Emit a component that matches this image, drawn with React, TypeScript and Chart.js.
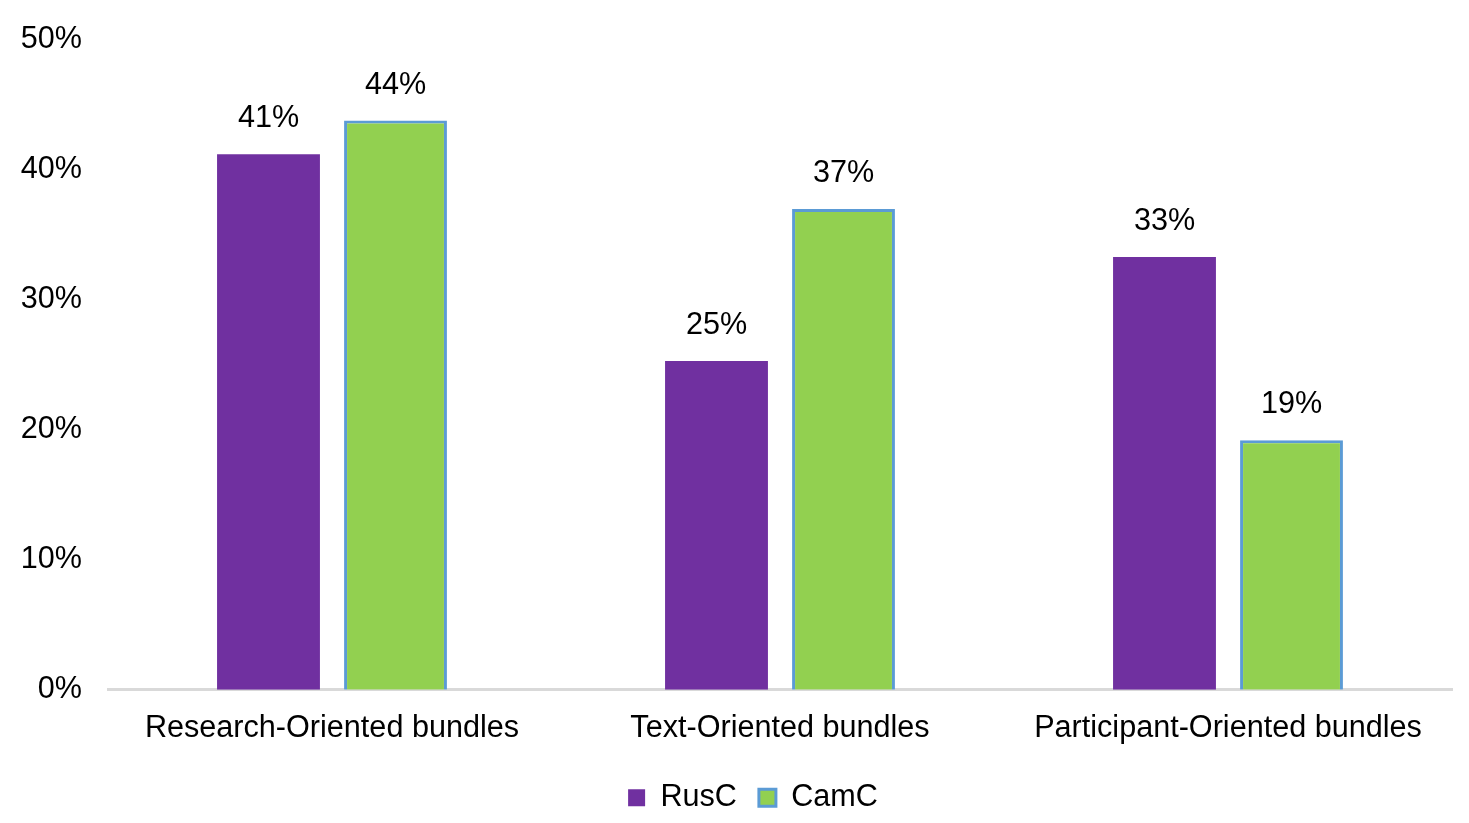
import React, { useEffect, useRef } from "react";
import { Chart, registerables } from "chart.js";

Chart.register(...registerables);

const categories = ["Research-Oriented bundles", "Text-Oriented bundles", "Participant-Oriented bundles"];
const rusC = [41.2, 25.3, 33.3];
const camC = [43.8, 37.0, 19.2];
const rusLabels = ["41%", "25%", "33%"];
const camLabels = ["44%", "37%", "19%"];

const FONT = "'Liberation Sans', Arial, sans-serif";
const SIZE = 30.6;

const valueLabels = {
  id: "valueLabels",
  afterDatasetsDraw(chart: Chart) {
    const ctx = chart.ctx;
    const texts = [rusLabels, camLabels];
    ctx.save();
    ctx.font = `${SIZE}px ${FONT}`;
    ctx.fillStyle = "#000";
    ctx.textAlign = "center";
    ctx.textBaseline = "bottom";
    chart.data.datasets.forEach((_, di) => {
      const meta = chart.getDatasetMeta(di);
      meta.data.forEach((bar: any, i: number) => {
        ctx.fillText(texts[di][i], bar.x, bar.y - 20);
      });
    });
    ctx.restore();
  },
};

// nudge the legend a little to the right, like the original
const legendShift = {
  id: "legendShift",
  afterLayout(chart: any) {
    if (chart.legend) {
      chart.legend.left += 27;
      chart.legend.right += 27;
    }
  },
};

export default function App() {
  const canvasRef = useRef<HTMLCanvasElement>(null);

  useEffect(() => {
    document.body.style.margin = "0";
    if (!canvasRef.current) return;
    const chart = new Chart(canvasRef.current, {
      type: "bar",
      data: {
        labels: categories,
        datasets: [
          {
            label: "RusC",
            data: rusC,
            backgroundColor: "#7030a0",
            borderWidth: 0,
            categoryPercentage: 0.567,
            barPercentage: 0.81,
          },
          {
            label: "CamC",
            data: camC,
            backgroundColor: "#92d050",
            borderColor: "#5b9bd5",
            borderWidth: 3,
            categoryPercentage: 0.567,
            barPercentage: 0.81,
          },
        ],
      },
      options: {
        animation: false,
        responsive: false,
        layout: { padding: { top: 40, right: 17, left: 0, bottom: 0 } },
        plugins: {
          tooltip: { enabled: false },
          legend: {
            position: "bottom",
            labels: {
              font: { family: FONT, size: SIZE },
              color: "#000",
              boxWidth: 17,
              boxHeight: 17,
              padding: 22,
            },
          },
        },
        scales: {
          x: {
            grid: { display: false, drawTicks: false },
            border: { display: true, color: "#d9d9d9", width: 3 },
            ticks: { font: { family: FONT, size: SIZE }, color: "#000", padding: 21, maxRotation: 0 },
            afterFit: (scale: any) => {
              scale.height -= 8;
            },
          },
          y: {
            min: 0,
            max: 50,
            grid: { display: false, drawTicks: false },
            border: { display: false },
            ticks: {
              stepSize: 10,
              font: { family: FONT, size: SIZE },
              color: "#000",
              padding: 26,
              callback: (v: any) => `${v}%`,
            },
            afterFit: (scale: any) => {
              scale.width = 108;
              // the tick padding is horizontal here; keep it from pushing the plot down
              scale.paddingTop = 0;
              scale.paddingBottom = 0;
            },
          },
        },
      },
      plugins: [valueLabels, legendShift],
    });
    return () => chart.destroy();
  }, []);

  return (
    <div style={{ width: 1469, height: 823, background: "#fff" }}>
      <canvas ref={canvasRef} width={1469} height={823} style={{ display: "block" }} />
    </div>
  );
}
